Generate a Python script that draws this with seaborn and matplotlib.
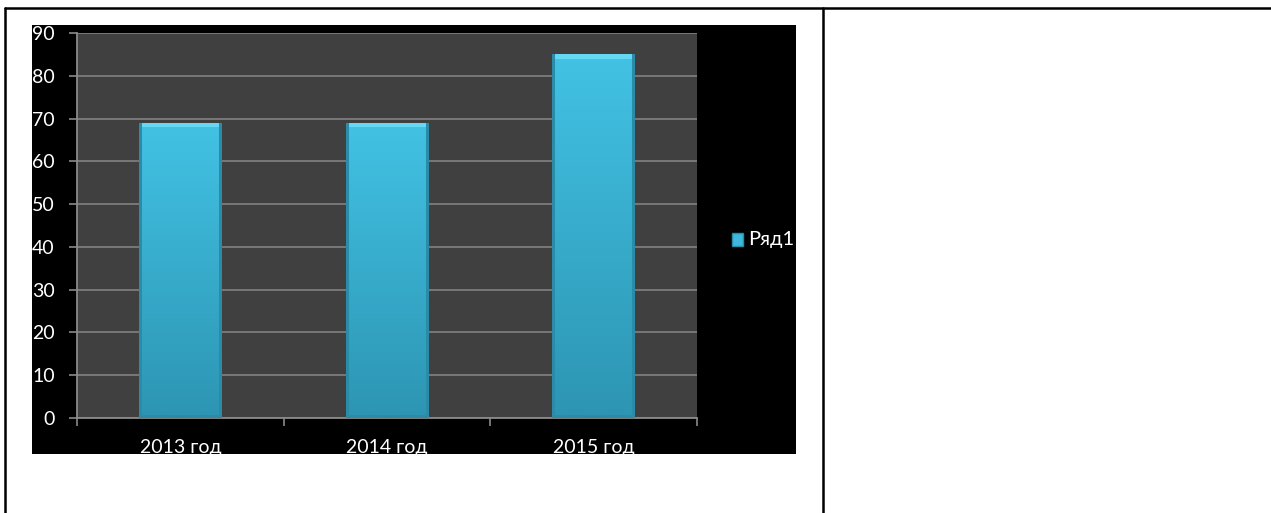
import numpy as np
import pandas as pd
import matplotlib
matplotlib.use("Agg")
import matplotlib.pyplot as plt
import seaborn as sns
from matplotlib.patches import Rectangle
from matplotlib.lines import Line2D

# data
categories = ["2013 год", "2014 год", "2015 год"]
values = [69, 69, 85]
series_name = "Ряд1"
y_ticks = [0, 10, 20, 30, 40, 50, 60, 70, 80, 90]

df = pd.DataFrame({"year": categories, "value": values})

sns.set_theme(style="dark")
plt.rcParams["font.family"] = ["Lato", "DejaVu Sans"]

W, H = 1271, 513
fig = plt.figure(figsize=(W / 100, H / 100), dpi=100, facecolor="white")


def fx(px):
    return px / W


def fy(py):
    return 1 - py / H


# table borders of the page
for (x0, y0, x1, y1) in [(5, 8, W, 8), (5, 8, 5, H), (823, 8, 823, H)]:
    fig.add_artist(Line2D([fx(x0), fx(x1)], [fy(y0), fy(y1)], color="black", lw=1.8,
                          transform=fig.transFigure))

# black chart area
fig.add_artist(Rectangle((fx(32), fy(454)), fx(796) - fx(32), fy(25) - fy(454),
                         transform=fig.transFigure, facecolor="black", edgecolor="none", zorder=0))

ax = fig.add_axes([fx(77), fy(418), fx(697) - fx(77), fy(33) - fy(418)])
ax.set_facecolor("#404040")

sns.barplot(data=df, x="year", y="value", color="#3DB9DC", width=0.4, ax=ax,
            saturation=1, edgecolor="none")

ax.set_ylim(0, 90)
ax.set_xlim(-0.5, 2.5)
ax.set_yticks(y_ticks)
ax.set_yticklabels([str(t) for t in y_ticks])
ax.yaxis.grid(True, color="#7c7c7c", lw=1.3)
ax.xaxis.grid(False)
ax.set_axisbelow(True)
ax.set_xlabel("")
ax.set_ylabel("")
for s in ["top", "right"]:
    ax.spines[s].set_visible(False)
ax.spines["left"].set_color("#8a8a8a")
ax.spines["bottom"].set_color("#8a8a8a")
ax.spines["left"].set_linewidth(1.3)
ax.spines["bottom"].set_linewidth(1.3)

ax.tick_params(axis="y", colors="#8a8a8a", labelcolor="white", labelsize=14, length=6,
               width=1.2, left=True, pad=10)
ax.tick_params(axis="x", bottom=False, labelcolor="white", labelsize=14, pad=9)
# category boundary ticks
ax.set_xticks([-0.5, 0.5, 1.5, 2.5], minor=True)
ax.tick_params(axis="x", which="minor", bottom=True, length=6, width=1.2, colors="#8a8a8a")

# gradient / bevel fill for bars
fig.canvas.draw()
top_c = np.array([0x42, 0xC2, 0xE4]) / 255
bot_c = np.array([0x2D, 0x95, 0xB3]) / 255
bevel_c = np.array([0x66, 0xD8, 0xF3]) / 255
side_c = np.array([0x2A, 0x8C, 0xA8]) / 255
for p in ax.patches:
    bb = p.get_window_extent()
    hp, wp = max(int(bb.height), 2), max(int(bb.width), 2)
    t = np.linspace(0, 1, hp)[:, None, None]
    img = np.ones((hp, wp, 3)) * (top_c * (1 - t) + bot_c * t)
    img[:5, :, :] = bevel_c
    img[:, :3, :] = side_c
    img[:, -3:, :] = side_c
    img[-3:, :, :] = side_c
    x0, x1 = p.get_x(), p.get_x() + p.get_width()
    y0, y1 = p.get_y(), p.get_y() + p.get_height()
    im = ax.imshow(img, extent=[x0, x1, y0, y1], aspect="auto", zorder=3, origin="upper")
    im.set_clip_path(p)
ax.set_xlim(-0.5, 2.5)
ax.set_ylim(0, 90)

# legend
fig.add_artist(Rectangle((fx(732), fy(246)), fx(743) - fx(732), fy(233) - fy(246),
                         transform=fig.transFigure, facecolor="#3DB9DC", edgecolor="#2A8CA8", lw=1))
fig.text(fx(748), fy(240), series_name, color="white", fontsize=14.5, va="center", ha="left")

fig.savefig("out.png", dpi=100, facecolor="white")
